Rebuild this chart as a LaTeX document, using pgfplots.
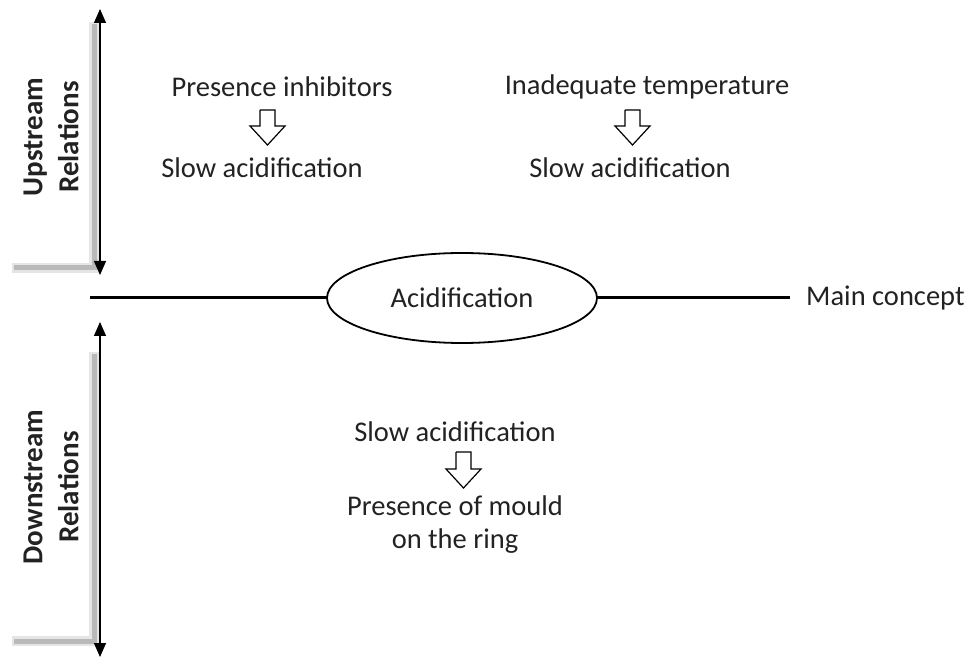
\documentclass[border=0pt]{standalone}
\usepackage{pgfplots}
\pgfplotsset{compat=1.18}
\usepackage{fontspec}
\setmainfont{Carlito}
\usetikzlibrary{arrows.meta,shapes.geometric}
\definecolor{txt}{HTML}{222222}
\tikzset{lbl/.style={font=\fontsize{28.5}{34}\selectfont, text=txt, inner sep=1pt},
  side/.style={rotate=90, font=\fontsize{29}{36}\selectfont\bfseries, align=center, text=txt}}
\begin{document}
\begin{tikzpicture}
\begin{axis}[hide axis, scale only axis, width=978pt, height=660pt,
  xmin=0, xmax=978, ymin=0, ymax=660, y dir=reverse, clip=false]
% bounding frame (invisible)
\addplot[draw=none] coordinates {(0,0) (978,660)};
% shadows
\addplot[gray!20, line width=10pt] coordinates {(12,268) (94,268) (94,22)};
\addplot[gray!55, line width=5pt] coordinates {(14,268) (94,268) (94,24)};
\addplot[gray!20, line width=10pt] coordinates {(12,641) (94,641) (94,352)};
\addplot[gray!55, line width=5pt] coordinates {(14,641) (94,641) (94,354)};
% vertical arrows
\addplot[black, line width=1.3pt, {Triangle[width=12pt,length=14pt]}-{Triangle[width=12pt,length=14pt]}] coordinates {(100,9) (100,275)};
\addplot[black, line width=1.3pt, {Triangle[width=12pt,length=14pt]}-{Triangle[width=12pt,length=14pt]}] coordinates {(100,322) (100,657)};
% main line
\addplot[black, line width=3pt] coordinates {(90,298) (330,298)};
\addplot[black, line width=3pt] coordinates {(595,298) (790,298)};
\node[lbl, draw=black, line width=1.8pt, ellipse, minimum width=270pt, minimum height=90pt, fill=white] at (axis cs:462,298) {Acidification};
\node[lbl, anchor=west] at (axis cs:805,298) {Main concept};
% side labels
\node[side] at (axis cs:51,137) {Upstream\\Relations};
\node[side] at (axis cs:51,487) {Downstream\\Relations};
% block arrows
\addplot[black, fill=white, line width=1.2pt] coordinates {(260,110) (275,110) (275,126) (285,126) (267.5,145) (250,126) (260,126) (260,110)};
\addplot[black, fill=white, line width=1.2pt] coordinates {(625,110) (640,110) (640,126) (650,126) (632.5,145) (615,126) (625,126) (625,110)};
\addplot[black, fill=white, line width=1.2pt] coordinates {(456,452) (471,452) (471,469) (481,469) (463.5,488) (446,469) (456,469) (456,452)};
% texts
\node[lbl] at (axis cs:282,87) {Presence inhibitors};
\node[lbl] at (axis cs:262,168) {Slow acidification};
\node[lbl] at (axis cs:647,87) {Inadequate temperature};
\node[lbl] at (axis cs:630,168) {Slow acidification};
\node[lbl] at (axis cs:455,432) {Slow acidification};
\node[lbl] at (axis cs:455,506) {Presence of mould};
\node[lbl] at (axis cs:455,541) {on the ring};
\end{axis}
\end{tikzpicture}
\end{document}
